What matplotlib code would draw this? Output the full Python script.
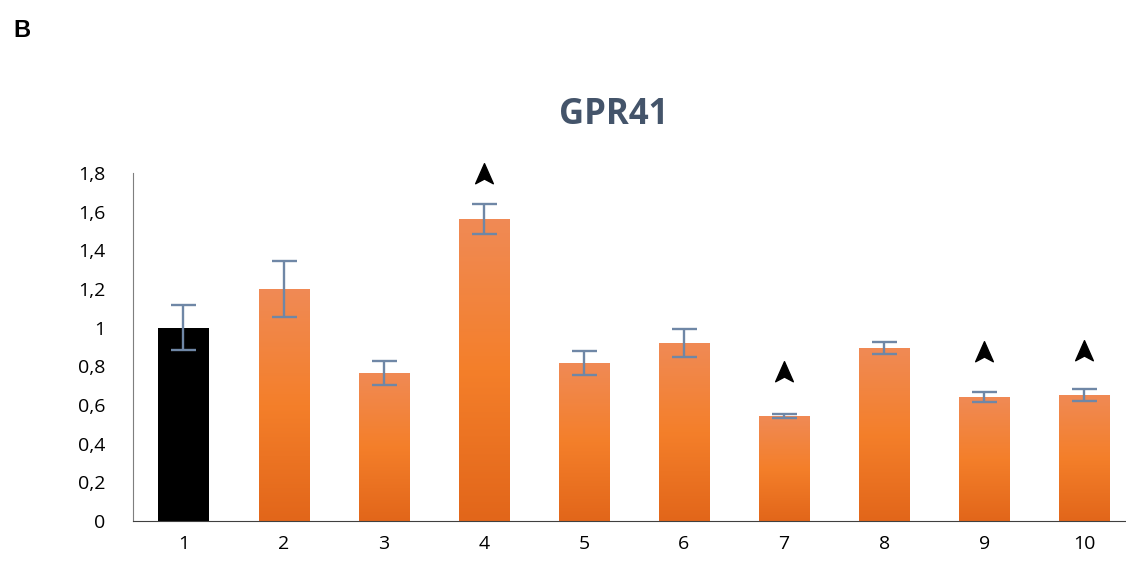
import numpy as np
import matplotlib.pyplot as plt
from matplotlib.path import Path
from matplotlib.ticker import FuncFormatter
from matplotlib.colors import LinearSegmentedColormap

groups = ['1', '2', '3', '4', '5', '6', '7', '8', '9', '10']
values = [1.00, 1.20, 0.766, 1.562, 0.817, 0.921, 0.543, 0.895, 0.641, 0.652]
errors = [0.115, 0.145, 0.06, 0.077, 0.06, 0.073, 0.012, 0.03, 0.025, 0.03]
sig_groups = [3, 6, 8, 9]          # index of bars with arrowhead mark
sig_y = [1.79, 0.766, 0.869, 0.874]

fig = plt.figure(figsize=(11.26, 5.62), dpi=100)
ax = fig.add_axes([0.1185, 0.073, 0.889, 0.619])

x = np.arange(len(groups))
colors = ['black'] + ['#F47C2C'] * (len(groups) - 1)
bars = ax.bar(x, values, 0.5, color=colors, zorder=2)

# orange gradient: lighter top, darker bottom
cmap = LinearSegmentedColormap.from_list('org', ['#E2661A', '#F47F2A', '#F08A55'])
grad = np.linspace(0, 1, 256).reshape(-1, 1)
for b in bars[1:]:
    x0, y0 = b.get_x(), b.get_y()
    w, h = b.get_width(), b.get_height()
    im = ax.imshow(grad, extent=[x0, x0 + w, y0, y0 + h], origin='lower',
                   cmap=cmap, aspect='auto', zorder=2)
    im.set_clip_path(b)
    b.set_facecolor('none')

ax.errorbar(x, values, yerr=errors, fmt='none', ecolor='#6F87A6',
            elinewidth=1.7, capsize=9, capthick=1.7, zorder=3)

# arrowhead marker pointing up
arrow = Path([(0, 1), (0.75, -0.7), (0, -0.3), (-0.75, -0.7), (0, 1)],
             [Path.MOVETO, Path.LINETO, Path.LINETO, Path.LINETO, Path.CLOSEPOLY])
ax.plot(x[sig_groups], sig_y, linestyle='none', marker=arrow,
        markersize=17, color='black', clip_on=False, zorder=4)

ax.set_xlim(-0.5, len(groups) - 0.5)
ax.set_ylim(0, 1.8)
ax.set_yticks(np.arange(0, 1.81, 0.2))
ax.yaxis.set_major_formatter(FuncFormatter(
    lambda v, p: '0' if abs(v) < 1e-9 else ('1' if abs(v - 1) < 1e-9 else f'{v:.1f}'.replace('.', ','))))
ax.set_xticks(x)
ax.set_xticklabels(groups)
ax.tick_params(length=0, labelsize=14, pad=10)
for lab in ax.get_xticklabels() + ax.get_yticklabels():
    lab.set_fontfamily('Open Sans')
ax.tick_params(axis='y', pad=20)

ax.spines['top'].set_visible(False)
ax.spines['right'].set_visible(False)
ax.spines['left'].set_color('#7F7F7F')
ax.spines['bottom'].set_color('#404040')

fig.text(0.545, 0.795, 'GPR41', ha='center', va='center', fontsize=25,
         fontweight='bold', color='#44546A', fontfamily='Open Sans')
fig.text(0.012, 0.945, 'B', ha='left', va='center', fontsize=17,
         fontweight='bold', fontfamily='Liberation Sans')

fig.savefig('out.png', dpi=100)
